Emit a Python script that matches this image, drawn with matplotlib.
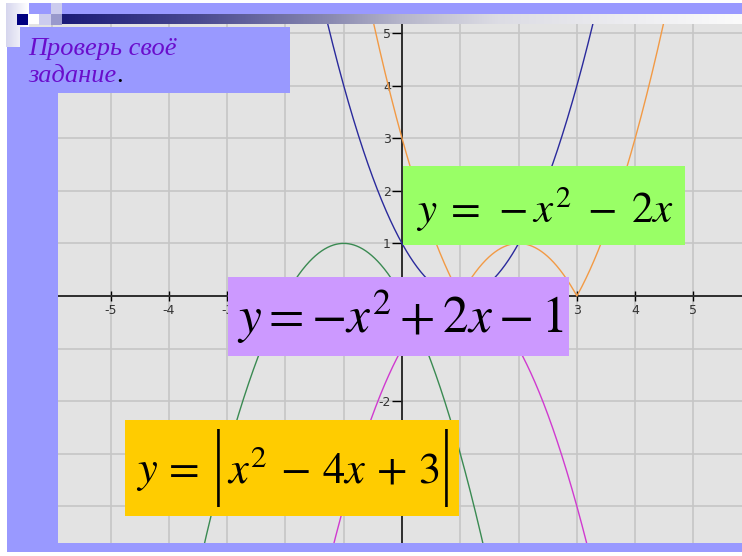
import numpy as np
import matplotlib
matplotlib.use('Agg')
import matplotlib.pyplot as plt
from matplotlib import font_manager as fm
from matplotlib.patches import Rectangle
from matplotlib.colors import LinearSegmentedColormap

plt.rcParams['mathtext.fontset'] = 'stix'

# ---------------- data ----------------
x_tick_values = [-6, -5, -4, -3, -2, -1, 0, 1, 2, 3, 4, 5]
y_tick_values = [-4, -3, -2, -1, 0, 1, 2, 3, 4, 5]
# labels hidden behind the formula boxes in the reference are left blank
x_tick_labels = ['-6', '-5', '-4', '-3', '', '', '', '', '', '3', '4', '5']
y_tick_labels = ['', '', '-2', '', '', '1', '2', '3', '4', '5']
# polynomial coefficients (highest power first) of the plotted curves
blue_coef = [1, -2, 1]        # y = x^2 - 2x + 1
orange_coef = [1, -4, 3]      # y = |x^2 - 4x + 3|
green_coef = [-1, -2, 0]      # y = -x^2 - 2x
magenta_coef = [-1, 2, -1]    # y = -x^2 + 2x - 1
title_lines = ["Проверь своё", "задание"]
formula_green = r"$y\;=\,-x^2\;-\;2x$"
formula_purple = r"$y=-x^2+2x-1$"
formula_yellow_left = r"$y\,=$"
formula_yellow_inner = r"$x^2\,-\,4x\,+\,3$"

# ---------------- figure ----------------
W, H = 742, 556
fig = plt.figure(figsize=(W / 100, H / 100), dpi=100)
fig.patch.set_facecolor('white')


def fx(px):
    return px / W


def fy(py):
    return 1 - py / H


def rect(x0, y0, x1, y1, color, z=2):
    r = Rectangle((fx(x0), fy(y1)), (x1 - x0) / W, (y1 - y0) / H,
                  transform=fig.transFigure, facecolor=color,
                  edgecolor='none', zorder=z)
    fig.add_artist(r)
    return r


# plot area
ax = fig.add_axes([fx(10), fy(543), (742 - 10) / W, (543 - 24) / H])
ax.set_xlim(-6.724, 5.832)
ax.set_ylim(-4.696, 5.171)
ax.set_facecolor('#e3e3e3')

xs = np.linspace(-7, 6, 1500)
ax.plot(xs, np.polyval(blue_coef, xs), color='#2a2a9c', lw=1.0, zorder=3)
ax.plot(xs, np.abs(np.polyval(orange_coef, xs)), color='#f29a45', lw=1.0, zorder=3)
ax.plot(xs, np.polyval(green_coef, xs), color='#3a8a52', lw=1.0, zorder=3)
ax.plot(xs, np.polyval(magenta_coef, xs), color='#d03ad0', lw=1.0, zorder=3)

ax.set_xticks(x_tick_values)
ax.set_yticks(y_tick_values)
ax.set_xticklabels(x_tick_labels)
ax.set_yticklabels(y_tick_labels)
ax.grid(True, color='#c6c6c6', lw=1.2, zorder=0)
ax.set_axisbelow(True)
for s in ['top', 'right']:
    ax.spines[s].set_visible(False)
ax.spines['left'].set_position(('data', 0))
ax.spines['bottom'].set_position(('data', 0))
for s in ['left', 'bottom']:
    ax.spines[s].set_linewidth(1.3)
    ax.spines[s].set_color('#222222')
ax.tick_params(axis='x', direction='inout', length=7, width=1.0,
               labelsize=9, labelcolor='#333333', pad=2.5)
ax.tick_params(axis='y', direction='out', length=7, width=1.0,
               labelsize=9, labelcolor='#333333', pad=1)

# ---------------- slide frame ----------------
frame = '#9999ff'
rect(7, 27, 58, 552, frame, z=5)          # left strip
rect(7, 543, 742, 552, frame, z=5)        # bottom strip
rect(29, 3, 742, 14, frame, z=5)          # top bar

# gradient bar
gax = fig.add_axes([fx(62), fy(24), (742 - 62) / W, 10 / H], zorder=6)
gcmap = LinearSegmentedColormap.from_list(
    'g', [(0, '#1c1c78'), (0.2, '#4a4a90'), (0.39, '#8888b0'),
          (0.5, '#b6b6ca'), (0.64, '#dcdce4'), (1, '#fbfbfb')])
gax.imshow(np.linspace(0, 1, 256)[None, :], aspect='auto', cmap=gcmap,
           extent=[0, 1, 0, 1])
gax.set_axis_off()

# light gradient square at top-left
lax = fig.add_axes([fx(6), fy(47), 23 / W, 44 / H], zorder=6)
lcmap = LinearSegmentedColormap.from_list('l', ['#d6d6ee', '#ffffff'])
lax.imshow(np.linspace(0, 1, 64)[None, :], aspect='auto', cmap=lcmap,
           extent=[0, 1, 0, 1])
lax.set_axis_off()

rect(29, 14, 62, 24, '#ffffff', z=7)
rect(17, 14, 28, 25, '#000080', z=8)
rect(39, 14, 51, 25, '#ccccee', z=8)
rect(51, 14, 62, 25, '#9999cc', z=8)
rect(51, 3, 62, 14, '#ccccee', z=8)

# title box
rect(20, 27, 290, 93, frame, z=9)
t1 = fig.text(fx(28), fy(55), title_lines[0], family='Liberation Serif',
              style='italic', fontsize=19, color='#6a0dcc', va='baseline',
              zorder=10)
t2 = fig.text(fx(28), fy(82), title_lines[1], family='Liberation Serif',
              style='italic', fontsize=19, color='#6a0dcc', va='baseline',
              zorder=10)
fig.canvas.draw()
bb = t2.get_window_extent()
fig.text(bb.x1 / W, fy(82), '.', family='Liberation Serif', fontsize=19,
         color='black', va='baseline', zorder=10)

# formula boxes
rect(403, 166, 685, 245, '#99ff66', z=11)
fig.text(fx(545), fy(223), formula_green, fontsize=31, ha='center',
         va='baseline', zorder=12)

rect(228, 277, 569, 356, '#cc99ff', z=11)
fig.text(fx(400), fy(333), formula_purple, fontsize=37, ha='center',
         va='baseline', zorder=12)

rect(125, 420, 459, 516, '#ffcc00', z=11)
fig.text(fx(136), fy(482), formula_yellow_left, fontsize=32, ha='left',
         va='baseline', zorder=12)
fig.text(fx(333), fy(482), formula_yellow_inner, fontsize=32, ha='center',
         va='baseline', zorder=12)

# thin absolute-value bars: prefer a light font weight if one is installed
bar_fp = None
for f in fm.fontManager.ttflist:
    if (f.name in ('Roboto', 'Lato', 'Inter', 'Open Sans', 'Noto Sans')
            and isinstance(f.weight, int) and f.weight <= 300
            and f.style == 'normal'):
        bar_fp = fm.FontProperties(fname=f.fname)
        break
bars = []
for bx in (218, 446):
    if bar_fp is not None:
        tb = fig.text(fx(bx), fy(468), '|', fontproperties=bar_fp,
                      ha='center', va='center', zorder=12)
    else:
        tb = fig.text(fx(bx), fy(468), r'$|$', ha='center', va='center',
                      zorder=12)
    tb.set_fontsize(50)
    bars.append(tb)
fig.canvas.draw()
r = fig.canvas.get_renderer()
for tb in bars:
    h = tb.get_window_extent(r).height
    tb.set_fontsize(50 * 78 / h)

fig.savefig('out.png', dpi=100, facecolor='white')
